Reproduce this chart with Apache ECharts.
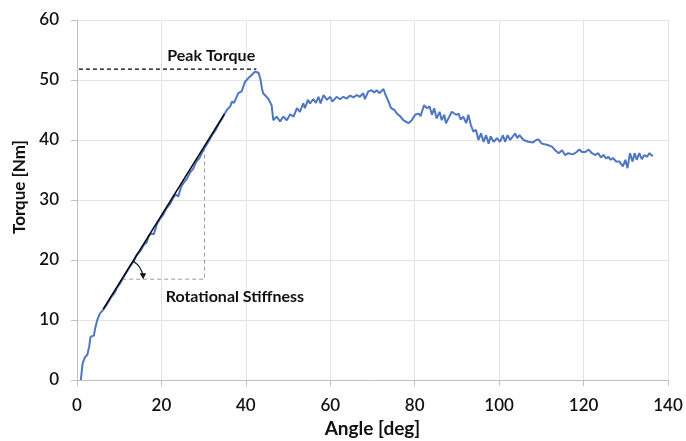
<!DOCTYPE html>
<html>
<head>
<meta charset="utf-8">
<script src="https://cdn.jsdelivr.net/npm/echarts@6/dist/echarts.min.js"></script>
<style>html,body{margin:0;padding:0;background:#fff}#c{width:686px;height:441px}</style>
</head>
<body>
<div id="c"></div>
<script>
// ---- data ----
const angle = [0.9,1.35,1.9,2.45,2.9,3.2,4.0,4.3,4.8,5.45,6.2,7.0,8.2,9.0,9.4,10.3,11.0,12.0,12.6,13.5,14.1,15.0,15.8,16.5,17.0,17.6,18.2,18.9,19.6,20.4,21.2,22.0,22.8,23.4,24.0,24.6,25.3,26.0,26.8,27.5,28.2,29.0,29.7,30.4,31.2,32.0,32.8,33.6,34.4,34.9,35.5,36.3,36.7,37.2,38.2,39.0,39.8,41.0,42.2,42.6,43.0,43.5,43.8,44.1,45.3,46.1,46.5,47.3,48.1,48.9,49.7,50.5,51.3,52.1,52.8,53.6,54.0,54.7,55.2,56.0,56.6,57.2,57.7,58.4,59.2,60.0,60.5,61.5,62.3,63.1,63.9,64.7,65.5,66.3,67.0,67.8,68.2,69.0,69.8,70.4,71.0,71.6,72.6,73.1,73.8,74.4,75.2,75.8,76.5,77.3,78.5,79.3,80.1,80.9,81.4,82.2,82.9,83.5,84.1,84.6,85.2,85.9,86.4,87.0,87.4,88.2,88.8,89.2,89.8,90.4,90.9,91.5,92.2,92.7,93.3,93.9,94.5,95.1,95.7,96.3,96.9,97.5,98.0,98.7,99.5,100.2,100.9,101.4,102.0,102.6,103.8,104.3,104.8,105.8,106.9,108.0,108.8,109.3,110.1,111.3,112.5,113.3,114.1,114.9,115.6,116.4,117.4,118.2,119.0,119.6,120.4,121.2,122.0,122.7,123.5,124.1,124.7,125.4,125.9,126.4,127.0,127.7,128.5,129.3,129.9,130.4,131.0,131.6,132.1,132.6,133.2,133.8,134.4,135.0,135.6,136.4];
const torque = [0,2.8,3.8,4.2,5.6,7.2,7.4,8.6,10,11.1,11.7,12.5,13.9,14.6,15.3,16.2,17.1,18.3,19.0,19.8,20.8,21.5,22.5,22.9,24.0,24.4,24.3,25.9,26.8,27.5,28.6,29.3,30.4,30.9,30.6,32.1,32.9,33.5,34.6,35.2,36.3,37.0,38.0,38.9,39.8,40.8,41.6,42.7,43.6,44.3,45.0,45.6,46.4,46.2,47.8,48.1,49.7,50.6,51.4,51.7,51.2,50.0,48.6,47.8,46.9,45.8,43.3,43.9,43.1,43.9,43.3,44.3,43.9,45.3,44.7,46.1,45.3,46.7,46.1,46.8,46.2,47.2,46.1,47.5,46.7,47.2,46.4,47.2,46.8,47.2,46.9,47.4,47.1,47.5,47.2,47.8,46.8,48.1,48.3,47.9,48.3,47.8,48.5,47.5,46.4,45.3,45.0,44.4,44.0,43.3,42.8,43.3,44.2,44.4,44.0,45.8,45.3,45.6,44.2,45.3,43.6,44.7,43.3,44.2,42.8,43.9,44.7,45.0,44.2,44.4,43.4,43.9,42.8,44.2,42.5,41.4,41.7,40.0,41.1,39.7,40.8,39.4,40.6,39.7,40.3,39.7,40.8,39.7,40.8,40.0,41.1,40.3,40.8,40.0,39.7,39.6,40.0,40.1,39.4,39.2,38.9,38.3,37.8,38.3,37.5,37.8,37.6,37.9,38.4,38.0,38.0,38.4,37.8,37.5,37.8,37.1,37.5,36.9,37.2,36.7,37.0,36.4,36.4,35.6,36.7,35.3,37.8,36.4,37.8,36.7,37.8,36.8,37.5,37.2,37.8,37.3];
const xTicks = {min: 0, max: 140, step: 20};
const yTicks = {min: 0, max: 60, step: 10};
const fitLine = [[6.2, 11.8], [34.9, 44.3]];
const peakLine = [[-1.2, 51.8], [42.5, 51.8]];
const stiffLine = [[10.7, 16.8], [30.2, 16.8], [30.2, 38.3]];
const arcCenter = [10.7, 16.8];
const labels = [
  {text: 'Peak Torque', at: [31.8, 54.0]},
  {text: 'Rotational Stiffness', at: [37.4, 13.8]}
];

const FONT = 'Lato, "Open Sans", sans-serif';
const chart = echarts.init(document.getElementById('c'), null, {renderer: 'canvas'});
chart.setOption({
  backgroundColor: '#fff',
  animation: false,
  grid: {left: 77, right: 18, top: 20, bottom: 61, containLabel: false, outerBoundsMode: 'none'},
  xAxis: {
    type: 'value', min: xTicks.min, max: xTicks.max, interval: xTicks.step,
    name: 'Angle [deg]', nameLocation: 'middle', nameGap: 37,
    nameTextStyle: {fontFamily: FONT, fontSize: 19, fontWeight: 'bold', color: '#111'},
    axisLine: {show: true, lineStyle: {color: '#bfbfbf', width: 1}},
    axisTick: {show: true, length: 6, lineStyle: {color: '#bfbfbf'}},
    axisLabel: {margin: 17, fontFamily: FONT, fontSize: 17, fontWeight: 600, color: '#111'},
    splitLine: {show: true, lineStyle: {color: '#e4e4e4', width: 1}}
  },
  yAxis: {
    type: 'value', min: yTicks.min, max: yTicks.max, interval: yTicks.step,
    name: 'Torque [Nm]', nameLocation: 'middle', nameGap: 45,
    nameTextStyle: {fontFamily: FONT, fontSize: 17, fontWeight: 'bold', color: '#111', padding: [0, 0, 0, 26]},
    axisLine: {show: true, lineStyle: {color: '#bfbfbf', width: 1}},
    axisTick: {show: true, length: 6, lineStyle: {color: '#bfbfbf'}},
    axisLabel: {margin: 18, fontFamily: FONT, fontSize: 17, fontWeight: 600, color: '#111'},
    splitLine: {show: true, lineStyle: {color: '#e4e4e4', width: 1}}
  },
  series: [
    {
      type: 'line', data: angle.map((a, i) => [a, torque[i]]),
      showSymbol: false, symbol: 'none',
      lineStyle: {color: '#4f76c0', width: 2}, z: 2
    },
    {
      type: 'line', data: stiffLine, symbol: 'none',
      lineStyle: {color: '#9a9a9a', width: 1, type: [4, 3]}, z: 3
    },
    {
      type: 'line', data: fitLine, symbol: 'none',
      lineStyle: {color: '#000', width: 1.5}, z: 4
    },
    {
      type: 'line', data: peakLine, symbol: 'none', clip: false,
      lineStyle: {color: '#000', width: 1.2, type: [4, 3]}, z: 4
    },
    {
      type: 'custom', data: [arcCenter], clip: false, z: 5,
      renderItem: function (params, api) {
        const c = api.coord([api.value(0), api.value(1)]);
        const p0 = api.coord(fitLine[0]);
        const p1 = api.coord(fitLine[1]);
        const start = Math.atan2(p1[1] - p0[1], p1[0] - p0[0]);
        const r = 21;
        const ex = c[0] + r, ey = c[1];
        return {
          type: 'group',
          children: [
            {type: 'arc', shape: {cx: c[0], cy: c[1], r: r, startAngle: start, endAngle: -0.12, clockwise: true},
             style: {stroke: '#111', lineWidth: 1.2, fill: null}},
            {type: 'polygon', shape: {points: [[ex - 3.5, ey - 6], [ex + 3, ey - 6], [ex, ey]]},
             style: {fill: '#111'}}
          ]
        };
      }
    },
    {
      type: 'custom', data: labels.map(l => l.at), clip: false, z: 6,
      renderItem: function (params, api) {
        const p = api.coord([api.value(0), api.value(1)]);
        return {
          type: 'text', x: p[0], y: p[1],
          style: {text: labels[params.dataIndex].text, fontFamily: FONT, fontSize: 16, fontWeight: 'bold',
                  fill: '#111', align: 'center', verticalAlign: 'middle'}
        };
      }
    }
  ]
});
</script>
</body>
</html>
